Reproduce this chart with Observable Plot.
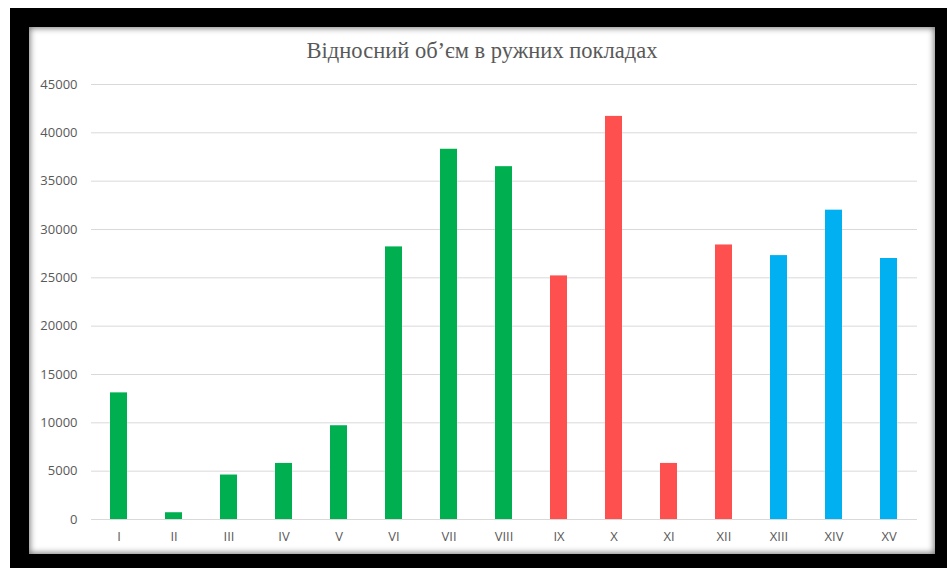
<!DOCTYPE html>
<html>
<head>
<meta charset="utf-8">
<script src="https://cdn.jsdelivr.net/npm/d3@7"></script>
<script src="https://cdn.jsdelivr.net/npm/@observablehq/plot@0.6"></script>
<style>
  html, body { margin: 0; padding: 0; background: #fff; width: 947px; height: 568px; overflow: hidden; }
  #frame { position: absolute; left: 10px; top: 8px; width: 937px; height: 560px; background: #000; }
  #panel { position: absolute; left: 29px; top: 27px; width: 906px; height: 527px; background: #fff;
           box-shadow: inset 0 0 6px 1px rgba(0,0,0,0.55); }
  #title { position: absolute; left: 0; top: 11px; width: 906px; text-align: center;
           font-family: "Liberation Serif", "Times New Roman", serif; font-size: 22.5px; color: #595959; }
  #chart { position: absolute; left: 0; top: 43px; }
  #chart svg { display: block; }
</style>
</head>
<body>
<div id="frame"></div>
<div id="panel">
  <div id="title">Відносний об’єм в ружних покладах</div>
  <div id="chart"></div>
</div>
<script>
const categories = ["I","II","III","IV","V","VI","VII","VIII","IX","X","XI","XII","XIII","XIV","XV"];
const values = [13100, 700, 4600, 5800, 9700, 28200, 38300, 36500, 25200, 41700, 5800, 28400, 27300, 32000, 27000];
const groups = ["A","A","A","A","A","A","A","A","B","B","B","B","C","C","C"];
const yTicks = [0, 5000, 10000, 15000, 20000, 25000, 30000, 35000, 40000, 45000];

const data = categories.map((c, i) => ({cat: c, value: values[i], group: groups[i]}));

const chart = Plot.plot({
  width: 906,
  height: 480,
  marginLeft: 62,
  marginRight: 18,
  marginTop: 14,
  marginBottom: 31,
  style: { fontFamily: "'Open Sans', sans-serif", fontSize: "13px", color: "#595959", background: "transparent", overflow: "visible" },
  x: { domain: categories, paddingInner: 0.69, paddingOuter: 0.345, label: null, tickSize: 0, tickPadding: 12 },
  y: { domain: [0, 45000], ticks: yTicks, label: null, tickSize: 0, tickPadding: 14, tickFormat: d => String(d) },
  color: { domain: ["A","B","C"], range: ["#00B050", "#FF5050", "#00B0F0"] },
  marks: [
    Plot.gridY(yTicks, { stroke: "#d9d9d9", strokeOpacity: 1, strokeWidth: 1 }),
    Plot.barY(data, { x: "cat", y: "value", fill: "group" }),
    Plot.axisX({ tickSize: 0, tickPadding: 12, fill: "#595959" }),
    Plot.axisY({ ticks: yTicks, tickSize: 0, tickPadding: 14, tickFormat: d => String(d), fill: "#595959" })
  ]
});
document.getElementById("chart").appendChild(chart);
</script>
</body>
</html>
